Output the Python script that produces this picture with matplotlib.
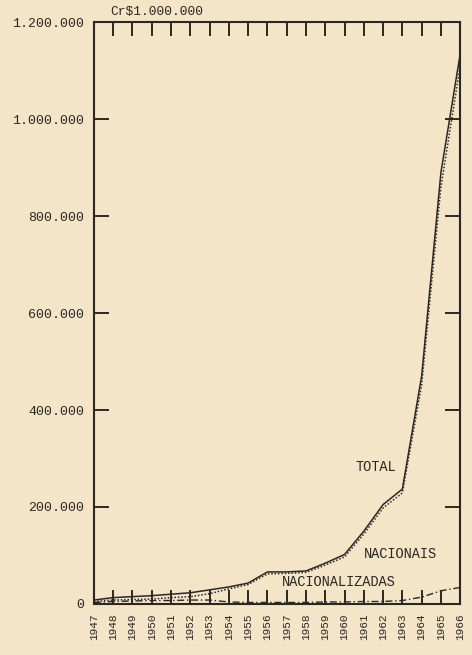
import matplotlib.pyplot as plt
from matplotlib.ticker import FuncFormatter

anos = list(range(1947, 1967))

# valores em Cr$1.000.000
total = [8, 13, 15, 17, 20, 23, 29, 35, 43, 66, 66, 68, 84, 102, 150, 205, 237, 470, 890, 1135]
nacionais = [5, 8, 9, 10, 13, 15, 21, 31, 40, 62, 63, 65, 80, 97, 144, 198, 229, 452, 860, 1110]
nacionalizadas = [3, 5, 6, 7, 7, 8, 8, 4, 3, 3, 3, 3, 4, 4, 5, 5, 7, 14, 27, 34]

y_ticks = [0, 200000, 400000, 600000, 800000, 1000000, 1200000]

fundo = "#f4e5c9"
tinta = "#2b2722"
fonte = "Liberation Mono"

fig = plt.figure(figsize=(4.72, 6.55), dpi=100, facecolor=fundo)
ax = fig.add_axes([0.199, 0.078, 0.776, 0.888], facecolor=fundo)

ax.plot(anos, [v * 1000 for v in total], color=tinta, lw=1.1, ls="-")
ax.plot(anos, [v * 1000 for v in nacionais], color=tinta, lw=1.1, ls=(0, (1, 1.2)))
ax.plot(anos, [v * 1000 for v in nacionalizadas], color=tinta, lw=1.0, ls=(0, (5, 2, 1, 2)))

ax.set_xlim(1947, 1966)
ax.set_ylim(0, 1200000)

ax.set_xticks(anos)
ax.set_xticklabels([str(a) for a in anos], rotation=90, fontfamily=fonte, fontsize=8, color=tinta)
ax.set_yticks(y_ticks)
ax.yaxis.set_major_formatter(FuncFormatter(lambda v, p: f"{int(v):,}".replace(",", ".")))
for lab in ax.get_yticklabels():
    lab.set_fontfamily(fonte)
    lab.set_fontsize(9.5)
    lab.set_color(tinta)

ax.tick_params(axis="x", direction="in", length=10, width=1.4, top=True, bottom=True,
               pad=7, colors=tinta)
ax.tick_params(axis="y", direction="in", length=10.5, width=1.4, left=True, right=True,
               pad=7, colors=tinta)

for s in ax.spines.values():
    s.set_color(tinta)
    s.set_linewidth(1.5)

ax.text(1961.64, 282000, "TOTAL", fontfamily=fonte, fontsize=9.8, color=tinta, ha="center", va="center")
ax.text(1962.9, 103000, "NACIONAIS", fontfamily=fonte, fontsize=9.8, color=tinta, ha="center", va="center")
ax.text(1959.7, 45000, "NACIONALIZADAS", fontfamily=fonte, fontsize=9.8, color=tinta, ha="center", va="center")

fig.text(110 / 472, 1 - 12 / 655, "Cr$1.000.000", fontfamily=fonte, fontsize=9.3, color=tinta,
         ha="left", va="center")

fig.savefig("out.png", dpi=100, facecolor=fundo)
